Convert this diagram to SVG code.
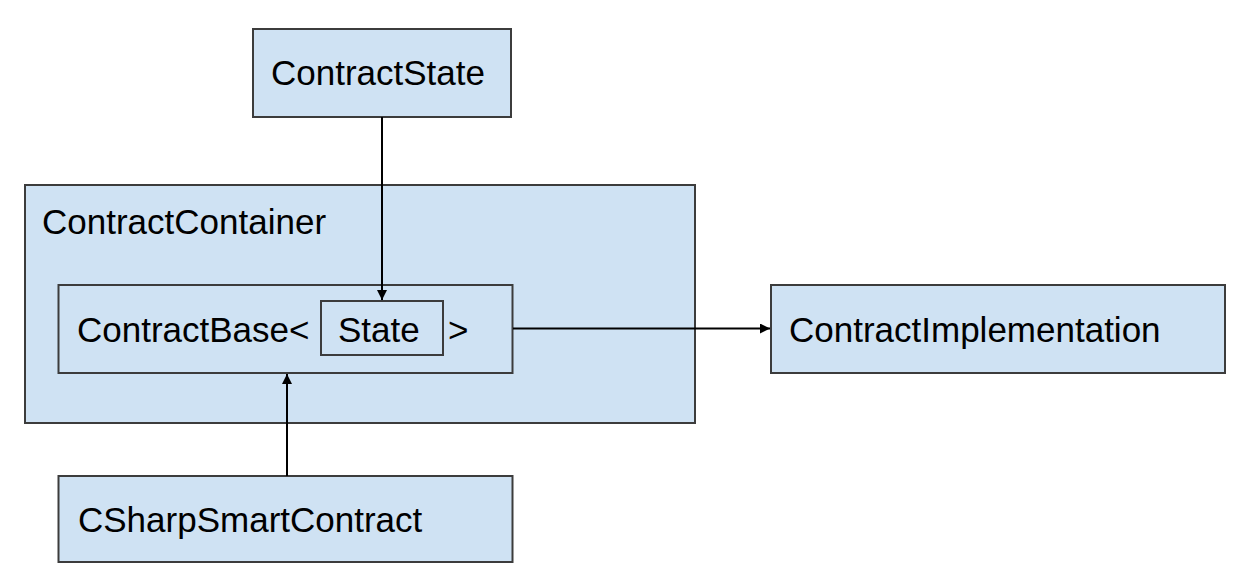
<svg xmlns="http://www.w3.org/2000/svg" width="1246" height="586" viewBox="0 0 1246 586">
<style>
.box{fill:#cfe2f3;stroke:#3c3c3c;stroke-width:2}
.inner{fill:none;stroke:#3c3c3c;stroke-width:2}
.lbl{font-family:"Liberation Sans",Arial,sans-serif;font-size:35px;fill:#000}
.conn{stroke:#000;stroke-width:2;fill:none}
</style>
<defs>
<marker id="ah" viewBox="0 0 10 10" refX="10" refY="5" markerWidth="5" markerHeight="5" orient="auto" markerUnits="strokeWidth">
<path d="M0,0 L10,5 L0,10 z" fill="#000"/>
</marker>
</defs>
<rect width="1246" height="586" fill="#fff"/>
<g id="ContractState">
<rect class="box" x="253" y="29" width="258" height="88"/>
<text class="lbl" x="271" y="85">ContractState</text>
</g>
<g id="ContractContainer">
<rect class="box" x="25" y="185" width="670" height="238"/>
<text class="lbl" x="42" y="234">ContractContainer</text>
</g>
<g id="ContractBase">
<rect class="inner" x="58.5" y="285" width="454" height="88"/>
<text class="lbl" x="77" y="342">ContractBase&lt;</text>
<text class="lbl" x="448" y="342">&gt;</text>
</g>
<g id="State">
<rect class="inner" x="321" y="301" width="122" height="54"/>
<text class="lbl" x="338" y="342">State</text>
</g>
<g id="ContractImplementation">
<rect class="box" x="771" y="285" width="454" height="88"/>
<text class="lbl" x="789" y="342">ContractImplementation</text>
</g>
<g id="CSharpSmartContract">
<rect class="box" x="58.5" y="476" width="454" height="86"/>
<text class="lbl" x="78" y="532">CSharpSmartContract</text>
</g>
<g id="connectors">
<line class="conn" x1="382" y1="117" x2="382" y2="300" marker-end="url(#ah)"/>
<line class="conn" x1="287" y1="476" x2="287" y2="374" marker-end="url(#ah)"/>
<line class="conn" x1="513" y1="328.5" x2="770" y2="328.5" marker-end="url(#ah)"/>
</g>
</svg>
